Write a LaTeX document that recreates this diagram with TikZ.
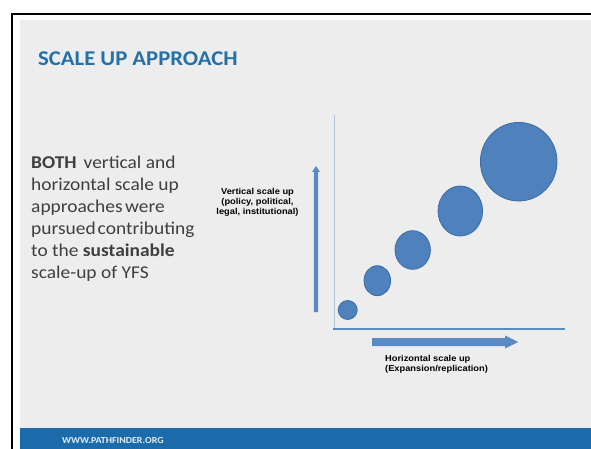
\documentclass[tikz,border=0pt]{standalone}
\usepackage{fontspec}
\setmainfont[FakeStretch=1.08]{Carlito}
\newfontfamily\arialfont[FakeStretch=1.08]{Liberation Sans}
\definecolor{slidegray}{HTML}{EDEDED}
\definecolor{titleblue}{HTML}{2470A8}
\definecolor{footblue}{HTML}{1C6BAA}
\definecolor{bodygray}{HTML}{3F3F3F}
\definecolor{bubblefill}{HTML}{4F81BD}
\definecolor{bubbleedge}{HTML}{3A6CA6}
\definecolor{axisblue}{HTML}{5A8AC6}
\definecolor{thinaxis}{HTML}{AFC4E2}
\tikzset{
  bodyline/.style={anchor=base west, inner sep=0pt, text=bodygray, font=\fontsize{18}{22}\selectfont},
  smalllabel/.style={inner sep=0pt, text=black, font=\arialfont\bfseries\fontsize{8.6}{9.7}\selectfont},
  bubble/.style={draw=bubbleedge, fill=bubblefill, line width=0.8pt}
}
\begin{document}
\begin{tikzpicture}[x=1pt,y=-1pt]
\useasboundingbox (0,0) rectangle (591,449);
\fill[white] (0,0) rectangle (591,449);
% slide background
\fill[slidegray] (20,20) rectangle (591,428);
\fill[footblue] (20,428) rectangle (591,449);
% black frame
\draw[black, line width=2.5pt] (12,449) -- (12,14) -- (591,14);
% title
\node[anchor=base west, inner sep=0pt, text=titleblue, font=\bfseries\fontsize{21}{24}\selectfont] (title) at (38,65.5) {SCALE UP APPROACH};
% body text
\node[bodyline] (l1) at (31,168) {\textbf{BOTH}\hspace{7pt}vertical and};
\node[bodyline] (l2) at (31,190) {horizontal scale up};
\node[bodyline] (l3) at (31,212) {approaches\hspace{2.5pt}were};
\node[bodyline] (l4) at (31,234) {pursued\hspace{2pt}contributing};
\node[bodyline] (l5) at (31,256) {to the \textbf{sustainable}};
\node[bodyline] (l6) at (31,278) {scale-up of YFS};
% axes
\draw[thinaxis, line width=0.9pt] (334,115) -- (334,329);
\draw[axisblue, line width=2.6pt] (333,329) -- (565,329);
% vertical arrow
\fill[axisblue] (313.8,312) -- (313.8,172) -- (312,172) -- (316,166) -- (320,172) -- (318.2,172) -- (318.2,312) -- cycle;
% horizontal arrow
\fill[axisblue] (372,338) -- (505,338) -- (505,335.5) -- (518,342) -- (505,348.5) -- (505,346) -- (372,346) -- cycle;
% bubbles
\draw[bubble] (347.7,310) ellipse [x radius=9.5, y radius=9.5];
\draw[bubble] (377.3,280.7) ellipse [x radius=13.3, y radius=15];
\draw[bubble] (412.7,250) ellipse [x radius=17.7, y radius=19.3];
\draw[bubble] (460.3,211) ellipse [x radius=22.3, y radius=25];
\draw[bubble] (518.7,161.7) ellipse [x radius=38.3, y radius=39.3];
% labels
\node[smalllabel, align=center, anchor=north] (vlabel) at (257.5,188.5) {Vertical scale up\\(policy, political,\\legal, institutional)};
\node[smalllabel, align=left, anchor=north west] (hlabel) at (385,355) {Horizontal scale up\\(Expansion/replication)};
% footer
\node[anchor=base west, inner sep=0pt, text=white!88!footblue, font=\bfseries\fontsize{9.2}{10}\selectfont] (footer) at (62,443) {WWW.PATHFINDER.ORG};
\end{tikzpicture}
\end{document}
